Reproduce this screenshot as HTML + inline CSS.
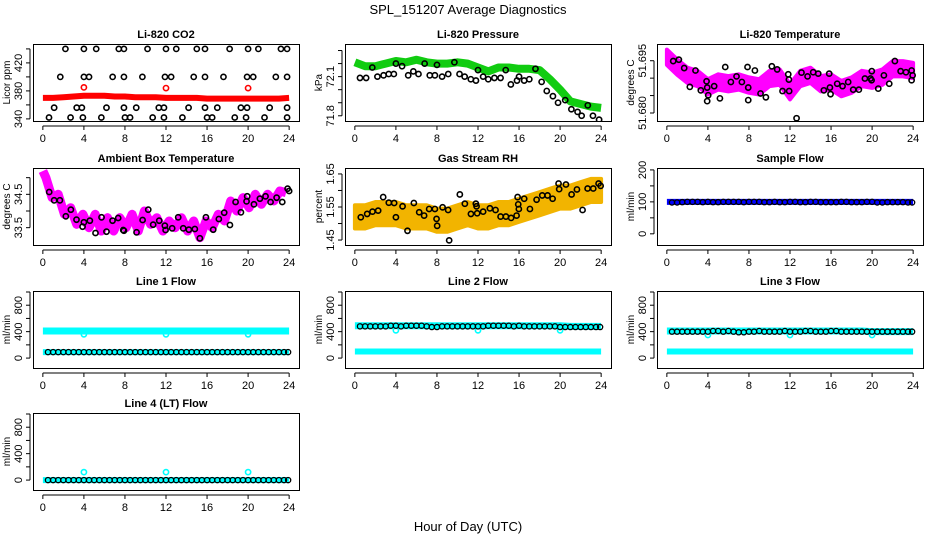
<!DOCTYPE html>
<html><head><meta charset="utf-8">
<style>
html,body{margin:0;padding:0;background:#fff;}
svg{display:block;font-family:"Liberation Sans",Arial,sans-serif;}
</style></head>
<body>
<svg id="chart" width="936" height="540" viewBox="0 0 936 540">
<text x="468" y="14" font-size="13" text-anchor="middle">SPL_151207  Average Diagnostics</text>
<text x="468" y="531" font-size="13" text-anchor="middle">Hour of Day (UTC)</text>
</svg>
<script>
// ---------- data ----------
const hourTicks = [0,4,8,12,16,20,24];
const hourly = [0,1,2,3,4,5,6,7,8,9,10,11,12,13,14,15,16,17,18,19,20,21,22,23,24];
const halfHours = [0.5,1,1.5,2,2.5,3,3.5,4,4.5,5,5.5,6,6.5,7,7.5,8,8.5,9,9.5,10,10.5,11,11.5,12,12.5,13,13.5,14,14.5,15,15.5,16,16.5,17,17.5,18,18.5,19,19.5,20,20.5,21,21.5,22,22.5,23,23.5,23.9];

// CO2
const co2RedVals = [370,370,371,372,373,373,373,372,372,371,371,371,370,370,370,370,369,369,369,369,369,369,369,369,370];
const co2RedOutHours = [4,12,20];
const co2RedOutVals = [385,384,384];
const co2BlackHours = [2.2,4,5.2,7.4,7.9,10.2,12,13,15,15.8,18.2,20,21,23.2,23.8, 1.7,4,4.5,6.8,7.9,9.7,11.9,12.5,14.7,15.8,17.6,19.9,20.5,22.7,23.8, 1.1,3.3,3.8,6.2,7.9,9.1,11.3,11.8,14.2,15.8,17,19.3,19.9,22.1,23.8, 0.6,2.7,3.9,5.7,8,8.5,10.7,11.8,13.6,16,16.5,18.7,19.8,21.6,23.8];
const co2BlackVals = [440,440,440,440,440,440,440,440,440,440,440,440,440,440,440, 400,400,400,400,400,400,400,400,400,400,400,400,400,400,400, 356,356,356,356,356,356,356,356,356,356,356,356,356,356,356, 342,342,342,342,342,342,342,342,342,342,342,342,342,342,342];

// Pressure
const presGreenVals = [72.21,72.18,72.18,72.2,72.22,72.21,72.23,72.21,72.2,72.2,72.21,72.2,72.17,72.14,72.17,72.17,72.16,72.16,72.15,72.08,72.0,71.91,71.89,71.87,71.86];
const presBlackHours = [0.5,1.1,1.7,2.2,2.8,3.3,3.8,4,4.6,5.2,5.7,6.2,6.8,7.3,7.8,8,8.5,9.1,9.7,10.2,10.7,11.3,11.8,12,12.5,13,13.6,14.2,14.7,15.2,15.8,16,16.5,17,17.6,18.2,18.7,19.3,19.8,20.5,21.1,21.7,22.1,22.7,23.2,23.8];
const presBlackVals = [72.09,72.09,72.17,72.1,72.11,72.12,72.12,72.2,72.18,72.11,72.14,72.12,72.2,72.11,72.11,72.19,72.1,72.12,72.21,72.12,72.1,72.08,72.07,72.15,72.1,72.08,72.09,72.09,72.15,72.04,72.07,72.1,72.07,72.08,72.16,72.06,71.99,71.95,71.9,71.92,71.85,71.83,71.8,71.88,71.8,71.77];

// Li-820 temperature
const tempMagVals = [51.6960,51.6932,51.6908,51.6899,51.6875,51.6889,51.6884,51.6889,51.6880,51.6875,51.6899,51.6903,51.6861,51.6899,51.6908,51.6884,51.6889,51.6870,51.6880,51.6899,51.6894,51.6903,51.6927,51.6927,51.6922];
const tempBlackHours = [0.62,1.17,1.69,2.24,2.79,3.31,3.87,3.93,3.93,4.03,4.61,5.17,5.69,6.24,6.79,7.31,7.86,7.93,7.93,8.58,9.13,9.65,10.23,10.75,11.27,11.83,11.89,11.92,12.64,13.12,13.71,14.26,14.75,15.3,15.82,15.89,15.95,16.6,17.12,17.67,18.16,18.71,19.3,19.85,19.95,19.97,20.6,21.15,21.67,22.22,22.78,23.3,23.85,23.85,23.95];
const tempBlackVals = [51.6949,51.6953,51.6929,51.6875,51.6922,51.6865,51.6891,51.6873,51.6834,51.6851,51.6877,51.6842,51.6932,51.6889,51.6905,51.6889,51.6932,51.6873,51.6837,51.6922,51.6856,51.6845,51.6934,51.6925,51.6863,51.6911,51.6896,51.6863,51.6785,51.6916,51.6905,51.6917,51.6913,51.6865,51.6913,51.6873,51.6854,51.6884,51.6877,51.6889,51.6867,51.6867,51.6899,51.6899,51.6894,51.6920,51.6870,51.6908,51.6884,51.6949,51.6920,51.6917,51.6922,51.6894,51.6908];

// Ambient box temperature
const ambHours = [0,0.3,0.9,1.5,2.1,2.7,3.3,3.9,4.5,5.1,5.7,6.3,6.9,7.5,8.1,8.7,9.3,9.9,10.5,11.1,11.7,12.3,12.9,13.5,14.1,14.7,15.3,15.9,16.5,17.1,17.7,18.3,18.9,19.5,20.1,20.7,21.3,21.9,22.5,23.1,23.7];
const ambVals = [35.2,35.0,34.4,34.5,33.9,34.1,33.6,33.9,33.5,33.9,33.4,33.8,33.4,33.8,33.5,33.9,33.4,34.0,33.6,33.8,33.4,33.7,33.5,33.8,33.4,33.7,33.2,33.7,33.5,33.9,33.7,34.3,34.0,34.4,34.1,34.5,34.2,34.5,34.3,34.6,34.55];
const ambBlackHours = [0.62,1.1,1.66,2.24,2.73,3.28,3.87,4.0,4.58,5.13,5.72,6.2,6.79,7.34,7.83,7.9,9.13,9.72,10.27,10.75,11.34,11.89,11.96,12.6,13.19,13.68,14.23,14.81,15.3,15.89,16.6,17.15,17.67,18.23,18.78,19.3,19.85,19.91,20.57,21.15,21.7,22.19,22.78,23.33,23.85,24.0];
const ambBlackVals = [34.57,34.32,34.32,33.84,34.04,33.74,33.53,33.66,33.71,33.34,33.81,33.38,33.71,33.79,33.43,33.41,33.36,33.73,34.04,33.59,33.71,33.56,33.43,33.48,33.81,33.48,33.44,33.46,33.18,33.81,33.44,33.76,33.95,33.58,34.27,33.96,34.29,34.44,34.2,34.37,34.44,34.27,34.4,34.27,34.67,34.6];

// Gas stream RH
const rhVals = [1.52,1.52,1.53,1.53,1.53,1.52,1.52,1.52,1.51,1.51,1.52,1.53,1.52,1.52,1.53,1.53,1.54,1.55,1.56,1.57,1.58,1.58,1.59,1.6,1.6];
const rhBlackHours = [0.58,1.2,1.72,2.27,2.76,3.31,3.83,4.0,4.65,5.13,5.75,6.27,6.75,7.24,7.8,7.96,8.02,8.55,9.09,9.19,10.23,10.72,11.31,11.79,11.86,11.92,12.5,13.16,13.71,14.2,14.72,15.23,15.76,15.86,15.92,15.98,16.5,17.06,17.71,18.26,18.78,19.27,19.85,19.91,20.57,21.12,21.64,22.19,22.68,23.23,23.75,23.95];
const rhBlackVals = [1.519,1.529,1.536,1.539,1.58,1.563,1.562,1.519,1.552,1.478,1.562,1.534,1.524,1.544,1.544,1.514,1.493,1.549,1.541,1.449,1.588,1.56,1.529,1.56,1.552,1.531,1.536,1.546,1.541,1.521,1.521,1.517,1.524,1.58,1.558,1.544,1.575,1.544,1.572,1.585,1.585,1.575,1.621,1.604,1.618,1.588,1.603,1.541,1.606,1.606,1.621,1.614];

// Flows
const sampleBlueVals = [100,100,100,100,100,100,100,100,100,100,100,100,100,100,100,100,100,100,100,100,100,100,100,100,100];
const sampleBlackVals = [98,98,99,100,100,100,99,100,99,99,100,100,100,100,99,100,100,100,99,99,100,99,99,100,100,99,99,100,100,99,99,99,99,100,100,99,99,99,100,100,98,98,99,99,99,99,98,98];
const line1CyanVals = [410,410,410,410,410,410,410,410,410,410,410,410,410,410,410,410,410,410,410,410,410,410,410,410,410];
const line1LowCyanVals = [90,90,90,90,90,90,90,90,90,90,90,90,90,90,90,90,90,90,90,90,90,90,90,90,90];
const line1BlackVals = [90,90,90,90,90,90,90,90,90,90,90,90,90,90,90,90,90,90,90,90,90,90,90,90,90,90,90,90,90,90,90,90,90,90,90,90,90,90,90,90,90,90,90,90,90,90,90,90];
const line1DipHours = [4,12,20];
const line1DipVals = [360,360,360];
const line2CyanVals = [490,490,490,490,490,490,490,490,490,490,490,490,490,490,490,490,490,490,490,490,490,480,480,480,480];
const line2LowCyanVals = [100,100,100,100,100,100,100,100,100,100,100,100,100,100,100,100,100,100,100,100,100,100,100,100,100];
const line2BlackVals = [480,480,480,480,480,480,490,490,480,490,490,490,490,480,470,470,480,480,480,480,480,480,480,480,480,490,490,490,490,490,480,490,480,480,480,480,480,480,480,470,470,470,470,470,470,470,470,470];
const line2DipHours = [4,12,20];
const line2DipVals = [420,420,420];
const line3CyanVals = [410,410,410,410,410,410,410,410,410,410,410,410,410,410,410,410,410,410,410,410,400,400,400,400,400];
const line3LowCyanVals = [100,100,100,100,100,100,100,100,100,100,100,100,100,100,100,100,100,100,100,100,100,100,100,100,100];
const line3BlackVals = [400,400,400,400,400,400,400,400,410,410,400,410,400,390,390,400,400,410,400,400,400,400,410,400,400,400,410,410,400,400,400,410,410,400,400,400,400,400,400,400,400,400,400,400,400,400,400,400];
const line3DipHours = [4,12,20];
const line3DipVals = [350,350,350];
const line4CyanVals = [0,0,0,0,0,0,0,0,0,0,0,0,0,0,0,0,0,0,0,0,0,0,0,0,0];
const line4BlackVals = [0,0,0,0,0,0,0,0,0,0,0,0,0,0,0,0,0,0,0,0,0,0,0,0,0,0,0,0,0,0,0,0,0,0,0,0,0,0,0,0,0,0,0,0,0,0,0,0];
const line4SpikeHours = [4,12,20];
const line4SpikeVals = [120,120,120];

// ---------- drawing ----------
const NS = 'http://www.w3.org/2000/svg';
const svg = document.getElementById('chart');
function mk(tag, attrs, parent) {
  const e = document.createElementNS(NS, tag);
  for (const k in attrs) e.setAttribute(k, attrs[k]);
  (parent || svg).appendChild(e);
  return e;
}
const colLeft = [33, 345, 657];
const rowTop = [44, 168, 291, 413];
const BW = 266, BH = 77;

function makePanel(col, row, title, ylab, ymin, ymax, ticks, labels, name) {
  const L = colLeft[col], T = rowTop[row];
  const g = mk('g', {});
  
  
  const xs = h => L + BW * (h + 0.96) / 25.92;
  const ys = v => T + BH - (v - ymin) / (ymax - ymin) * BH;
  const clip = 'clip-' + name;
  const cp = mk('clipPath', {id: clip}, g);
  mk('rect', {x: L, y: T, width: BW, height: BH}, cp);
  const plot = mk('g', {'clip-path': 'url(#' + clip + ')'}, g);
  const box = mk('rect', {x: L + 0.5, y: T + 0.5, width: BW, height: BH, fill: 'none', stroke: '#000', 'stroke-width': 1}, g);
  
  
  const tt = mk('text', {x: L + BW / 2, y: T - 6, 'font-size': 11, 'font-weight': 'bold', 'text-anchor': 'middle'}, g);
  tt.textContent = title;
  
  
  const xa = mk('g', {}, g);
  
  
  const ay = T + BH + 5;
  mk('line', {x1: xs(0), x2: xs(24), y1: ay, y2: ay, stroke: '#000'}, xa);
  hourTicks.forEach(h => {
    mk('line', {x1: xs(h), x2: xs(h), y1: ay, y2: ay + 4, stroke: '#000'}, xa);
    const t = mk('text', {x: xs(h), y: ay + 16, 'font-size': 11, 'text-anchor': 'middle'}, xa);
    t.textContent = h;
  });
  const ya = mk('g', {}, g);
  
  
  const ax = L - 3;
  mk('line', {x1: ax, x2: ax, y1: ys(ticks[0]), y2: ys(ticks[ticks.length - 1]), stroke: '#000'}, ya);
  ticks.forEach(v => mk('line', {x1: ax - 4, x2: ax, y1: ys(v), y2: ys(v), stroke: '#000'}, ya));
  labels.forEach(v => {
    const t = mk('text', {x: 0, y: 0, 'font-size': 11, 'text-anchor': 'middle',
      transform: 'translate(' + (ax - 8) + ',' + ys(parseFloat(v)) + ') rotate(-90)'}, ya);
    t.textContent = v;
  });
  const yl = mk('text', {x: 0, y: 0, 'font-size': 10, 'text-anchor': 'middle',
    transform: 'translate(' + (L - 23) + ',' + (T + BH / 2) + ') rotate(-90)'}, g);
  yl.textContent = ylab;
  
  
  return {g: plot, xs, ys};
}
function band(p, hours, vals, color, w, name) {
  const pts = hours.map((h, i) => p.xs(h).toFixed(1) + ',' + p.ys(vals[i]).toFixed(1)).join(' ');
  const e = mk('polyline', {points: pts, fill: 'none', stroke: color, 'stroke-width': w, 'stroke-linejoin': 'round', 'stroke-linecap': 'butt'}, p.g);
  
  
}
function area(p, hours, vals, half, color, name) {
  const up = hours.map((h, i) => p.xs(h).toFixed(1) + ',' + p.ys(vals[i] + half).toFixed(1));
  const dn = hours.map((h, i) => p.xs(h).toFixed(1) + ',' + p.ys(vals[i] - half).toFixed(1)).reverse();
  const e = mk('polygon', {points: up.concat(dn).join(' '), fill: color, stroke: color, 'stroke-width': 4, 'stroke-linejoin': 'round'}, p.g);
  
  
}
function pts(p, hours, vals, color, name, sw) {
  hours.forEach((h, i) => {
    const c = mk('circle', {cx: p.xs(h), cy: p.ys(vals[i]), r: 2.6, fill: 'none', stroke: color, 'stroke-width': sw || 1.6}, p.g);
    
    
  });
}

let p = makePanel(0, 0, 'Li-820 CO2', 'Licor ppm', 337, 447, [340,360,380,400,420,440], ['340','380','420'], 'co2');
band(p, hourly, co2RedVals, '#f00', 6, 'co2-red-series');
pts(p, co2RedOutHours, co2RedOutVals, '#f00', 'co2-red-point');
pts(p, co2BlackHours, co2BlackVals, '#000', 'co2-black-point');

p = makePanel(1, 0, 'Li-820 Pressure', 'kPa', 71.76, 72.35, [71.8,71.9,72.0,72.1,72.2,72.3], ['71.8','72.1'], 'pressure');
band(p, hourly, presGreenVals, '#1c1', 8, 'pressure-green-series');
pts(p, presBlackHours, presBlackVals, '#000', 'pressure-black-point');

p = makePanel(2, 0, 'Li-820 Temperature', 'degrees C', 51.6777, 51.6998, [51.680,51.685,51.690,51.695], ['51.680','51.695'], 'li820-temp');
area(p, hourly, tempMagVals, 0.0022, '#f0f', 'li820-temp-magenta-series');
pts(p, tempBlackHours, tempBlackVals, '#000', 'li820-temp-black-point');

p = makePanel(0, 1, 'Ambient Box Temperature', 'degrees C', 32.98, 35.29, [33.5,34.0,34.5,35.0], ['33.5','34.5'], 'ambient-temp');
band(p, ambHours, ambVals, '#f0f', 9, 'ambient-magenta-series');
pts(p, ambBlackHours, ambBlackVals, '#000', 'ambient-black-point');

p = makePanel(1, 1, 'Gas Stream RH', 'percent', 1.435, 1.668, [1.45,1.50,1.55,1.60,1.65], ['1.45','1.55','1.65'], 'rh');
area(p, hourly, rhVals, 0.035, '#f2b400', 'rh-orange-series');
pts(p, rhBlackHours, rhBlackVals, '#000', 'rh-black-point');

p = makePanel(2, 1, 'Sample Flow', 'ml/min', -35, 206, [0,50,100,150,200], ['0','100','200'], 'sample-flow');
band(p, hourly, sampleBlueVals, '#00f', 6, 'sample-flow-blue-series');
pts(p, halfHours, sampleBlackVals, '#000', 'sample-flow-black-point', 1.3);

const fT = [0,200,400,600,800,1000], fL = ['0','400','800'];
p = makePanel(0, 2, 'Line 1 Flow', 'ml/min', -150, 1015, fT, fL, 'line1-flow');
band(p, hourly, line1CyanVals, '#0ff', 7, 'line1-cyan-series');
band(p, hourly, line1LowCyanVals, '#0ff', 6, 'line1-cyan-low-series');
pts(p, line1DipHours, line1DipVals, '#0ff', 'line1-cyan-point');
pts(p, halfHours, line1BlackVals, '#000', 'line1-black-point', 1.3);

p = makePanel(1, 2, 'Line 2 Flow', 'ml/min', -150, 1015, fT, fL, 'line2-flow');
band(p, hourly, line2CyanVals, '#0ff', 7, 'line2-cyan-series');
band(p, hourly, line2LowCyanVals, '#0ff', 6, 'line2-cyan-low-series');
pts(p, line2DipHours, line2DipVals, '#0ff', 'line2-cyan-point');
pts(p, halfHours, line2BlackVals, '#000', 'line2-black-point', 1.3);

p = makePanel(2, 2, 'Line 3 Flow', 'ml/min', -150, 1015, fT, fL, 'line3-flow');
band(p, hourly, line3CyanVals, '#0ff', 7, 'line3-cyan-series');
band(p, hourly, line3LowCyanVals, '#0ff', 6, 'line3-cyan-low-series');
pts(p, line3DipHours, line3DipVals, '#0ff', 'line3-cyan-point');
pts(p, halfHours, line3BlackVals, '#000', 'line3-black-point', 1.3);

p = makePanel(0, 3, 'Line 4 (LT) Flow', 'ml/min', -150, 1015, fT, fL, 'line4-flow');
band(p, hourly, line4CyanVals, '#0ff', 6, 'line4-cyan-series');
pts(p, line4SpikeHours, line4SpikeVals, '#0ff', 'line4-cyan-point');
pts(p, halfHours, line4BlackVals, '#000', 'line4-black-point', 1.3);
</script>
</body></html>
